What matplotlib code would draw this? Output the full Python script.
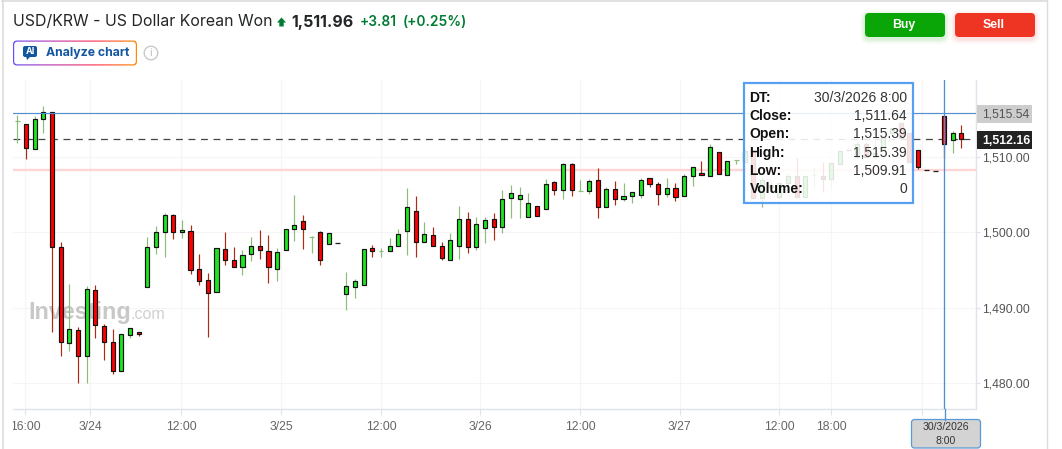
import numpy as np
import matplotlib
matplotlib.use("Agg")
import matplotlib.pyplot as plt
from matplotlib.patches import FancyBboxPatch, Rectangle, Circle, Polygon
from matplotlib.transforms import Bbox

# ---------- data (USD/KRW hourly candles) ----------
opens = [1514.68,1514.28,1510.97,1514.95,1515.87,1498.00,1485.29,1487.01,1483.57,1492.31,
         1487.54,1485.42,1481.58,1486.35,1486.75,1492.71,1498.00,1499.99,1502.24,1499.99,
         1500.12,1495.09,1493.63,1492.04,1497.74,1496.28,1495.35,1497.07,1498.13,1497.47,
         1495.09,1497.60,1500.38,1501.44,1499.37,1499.99,1498.40,1498.53,1491.87,1492.71,
         1492.97,1497.87,1497.47,1497.47,1498.13,1500.12,1502.77,1498.66,1499.59,1498.13,
         1496.28,1498.13,1501.71,1498.00,1500.52,1501.71,1500.65,1504.49,1504.36,1501.97,
         1503.43,1503.03,1506.61,1505.55,1508.99,1505.42,1505.42,1506.87,1503.30,1505.68,
         1504.36,1504.75,1504.89,1507.14,1506.35,1505.02,1505.81,1504.75,1507.40,1507.80,
         1507.40,1510.58,1507.53,1509.52,1509.34,1510.89,1504.49,1506.03,1504.71,1506.48,
         1507.45,1504.71,1507.53,1507.40,1507.01,1508.99,1510.84,1510.01,1511.68,1509.92,
         1510.89,1513.10,1514.42,1513.10,1510.84,1508.20,1508.11,1515.39,1512.17,1513.10]
highs = [1515.52,1514.28,1515.39,1516.71,1515.87,1498.71,1493.15,1487.45,1492.88,1493.01,
         1487.85,1487.19,1486.48,1487.28,1486.75,1499.37,1500.82,1502.55,1502.41,1501.62,
         1500.96,1497.12,1494.60,1497.87,1499.99,1498.04,1497.65,1499.37,1500.30,1499.63,
         1497.87,1500.38,1504.93,1502.28,1499.50,1500.12,1499.85,1498.53,1494.74,1493.81,
         1497.74,1498.31,1497.87,1499.28,1500.47,1505.86,1504.80,1501.36,1500.69,1498.71,
         1499.94,1503.47,1502.68,1502.02,1502.02,1502.55,1505.59,1506.25,1505.99,1505.20,
         1503.43,1507.00,1506.74,1509.17,1509.17,1506.92,1507.00,1508.50,1505.99,1506.78,
         1506.52,1505.28,1507.18,1507.14,1506.65,1507.18,1506.52,1507.71,1508.59,1509.43,
         1511.68,1510.58,1509.39,1509.52,1511.11,1510.89,1507.36,1506.92,1506.48,1507.80,
         1509.79,1507.45,1508.68,1509.34,1509.12,1510.76,1510.84,1512.43,1511.99,1512.65,
         1512.65,1513.76,1514.42,1513.10,1510.84,1508.20,1508.11,1515.39,1513.36,1514.15]
lows = [1511.77,1509.70,1510.97,1513.18,1486.84,1483.66,1484.32,1480.08,1480.08,1486.04,
        1483.13,1481.28,1481.58,1486.04,1486.31,1492.71,1497.16,1496.76,1499.15,1499.28,
        1494.51,1493.06,1486.17,1492.04,1495.71,1495.35,1494.38,1496.24,1496.50,1493.32,
        1493.59,1497.60,1498.88,1497.82,1497.29,1495.71,1498.40,1498.53,1489.71,1491.34,
        1492.97,1496.77,1496.77,1497.47,1498.13,1497.03,1496.77,1498.66,1498.13,1496.37,
        1496.28,1496.50,1497.30,1497.69,1498.62,1499.02,1499.94,1501.93,1501.93,1501.97,
        1502.11,1503.03,1504.97,1504.44,1504.84,1505.42,1505.11,1501.93,1503.30,1503.65,
        1504.18,1503.92,1504.58,1506.03,1503.65,1504.71,1504.18,1504.75,1506.17,1507.53,
        1507.40,1507.67,1507.53,1509.08,1509.34,1504.49,1503.39,1505.15,1504.71,1506.26,
        1504.71,1504.71,1506.03,1505.37,1505.59,1508.99,1510.84,1509.79,1509.79,1509.56,
        1510.89,1513.10,1512.43,1509.26,1508.33,1508.20,1508.11,1509.91,1510.45,1511.20]
closes = [1514.68,1511.11,1514.95,1515.87,1498.00,1485.42,1487.14,1483.57,1492.44,1487.67,
          1485.42,1481.58,1486.48,1487.28,1486.48,1498.00,1499.99,1502.24,1499.99,1500.25,
          1494.96,1493.50,1491.91,1497.87,1496.28,1495.35,1496.94,1498.13,1497.60,1495.35,
          1497.34,1500.38,1500.91,1500.38,1499.37,1496.28,1499.85,1498.53,1492.84,1493.50,
          1497.74,1497.47,1497.47,1498.13,1499.72,1503.30,1498.66,1499.72,1498.13,1496.55,
          1498.93,1501.71,1498.00,1501.05,1501.58,1500.65,1504.36,1505.15,1504.89,1503.83,
          1502.11,1506.35,1505.55,1508.99,1505.55,1505.42,1506.74,1503.30,1505.68,1504.36,
          1504.75,1505.28,1506.87,1506.35,1505.02,1505.81,1504.62,1507.40,1508.59,1507.53,
          1511.24,1507.67,1509.39,1509.52,1510.71,1504.49,1506.92,1506.26,1506.48,1507.45,
          1504.71,1507.45,1507.53,1507.01,1509.12,1510.76,1510.84,1511.68,1510.01,1510.45,
          1512.65,1513.76,1512.43,1509.26,1508.68,1508.20,1508.11,1511.64,1513.10,1512.30]

y_ticks = [1480, 1490, 1500, 1510]
x_tick_pos = [0.92, 8.43, 18.93, 30.48, 42.03, 53.46, 64.97, 76.5, 87.95, 93.96, 104.5]
x_tick_labels = ["16:00", "3/24", "12:00", "3/25", "12:00", "3/26", "12:00", "3/27", "12:00", "18:00", ""]
crosshair_x = 107
crosshair_price = 1515.75
crosshair_label = "1,515.54"
last_price_line = 1512.30
last_price_label = "1,512.16"
support_line = 1508.24
tooltip_keys = ["DT:", "Close:", "Open:", "High:", "Low:", "Volume:"]
tooltip_vals = ["30/3/2026 8:00", "1,511.64", "1,515.39", "1,515.39", "1,509.91", "0"]

# ---------- styles ----------
W, H = 1062, 449
SANS = "Liberation Sans"
UI = "Inter"
GRID = "#f5f5f6"
AXIS = "#e0e3eb"
UP, DOWN = "#1ee61e", "#ff0000"
UP_W, DOWN_W = "#8dbb78", "#b02a10"
BLUE = "#4f8fcf"

fig = plt.figure(figsize=(W / 100, H / 100), dpi=100, facecolor="white")
L, R, T, B = 13, 976, 80, 409.3
ax = fig.add_axes([L / W, 1 - B / H, (R - L) / W, (B - T) / H])
ax.set_xlim(-0.5, 110.7)
ax.set_ylim(1476.56, 1520.15)
for s in ("top", "left"):
    ax.spines[s].set_visible(False)
for s in ("right", "bottom"):
    ax.spines[s].set_color(AXIS)
    ax.spines[s].set_linewidth(1.0)
ax.yaxis.tick_right()
ax.set_yticks(y_ticks, [f"{v:,.2f}" for v in y_ticks])
ax.set_xticks(x_tick_pos, x_tick_labels)
ax.tick_params(axis="y", length=3, width=0.8, color=AXIS, labelcolor="#555555", labelsize=8.7, pad=1.3)
ax.tick_params(axis="x", length=4.2, width=0.8, color=AXIS, labelcolor="#666666", labelsize=8.7, pad=4.2)
for lab in ax.get_xticklabels() + ax.get_yticklabels():
    lab.set_family(SANS)
for lab in ax.get_xticklabels():
    lab.set_clip_box(Bbox([[L - 0.5, 0], [W, H]]))
    lab.set_clip_on(True)
ax.grid(True, color=GRID, lw=0.8, zorder=0)
ax.set_axisbelow(True)

ov = fig.add_axes([0, 0, 1, 1], zorder=5)
ov.set_xlim(0, W)
ov.set_ylim(H, 0)
ov.axis("off")
ov.patch.set_alpha(0)

# watermark, behind the candles
ax.text(28, 319, "Investing", transform=ov.transData, family=SANS, weight="bold",
        fontsize=16.8, color="#c8c8c8", zorder=1, clip_on=False)
ax.text(131, 319, ".com", transform=ov.transData, family=SANS, fontsize=11.6,
        color="#d0d0d0", zorder=1, clip_on=False)

ax.axhline(support_line, color="#ffd6d6", lw=1.7, zorder=1.5)
ax.axhline(last_price_line, color="#444444", lw=0.9, dashes=(5.5, 4.5), zorder=1.6)

# candles
xs = np.arange(len(opens))
o, h, l, c = map(np.array, (opens, highs, lows, closes))
up = c >= o
ax.vlines(xs[up], l[up], h[up], color=UP_W, lw=0.85, zorder=2)
ax.vlines(xs[~up], l[~up], h[~up], color=DOWN_W, lw=0.85, zorder=2)
flat = o == c
hold = h > l
ax.bar(xs[~flat], np.abs(c - o)[~flat], bottom=np.minimum(o, c)[~flat], width=0.47,
       color=[UP if u else DOWN for u in up[~flat]], edgecolor="#111111", linewidth=0.85, zorder=3)
fw = flat & hold
ax.hlines(o[fw], xs[fw] - 0.28, xs[fw] + 0.28,
          color=[UP_W if u else DOWN_W for u in up[fw]], lw=0.85, zorder=3)
fn = flat & ~hold
ax.hlines(o[fn], xs[fn] - 0.28, xs[fn] + 0.28, color="#222222", lw=0.95, zorder=3)

ax.axhline(crosshair_price, color=BLUE, lw=0.85, zorder=4)
ax.axvline(crosshair_x, color=BLUE, lw=0.95, zorder=4)


def rrect(x0, y0, x1, y1, r, **kw):
    p = FancyBboxPatch((x0 + r, y0 + r), x1 - x0 - 2 * r, y1 - y0 - 2 * r,
                       boxstyle=f"round,pad={r},rounding_size={r}", **kw)
    ov.add_patch(p)
    return p


# frame of the widget
ov.plot([2.5, 2.5], [0, H], color="#dcdcdc", lw=1.2)
ov.plot([2, 1046.5], [0.7, 0.7], color="#dcdcdc", lw=1.2)
ov.plot([1046.5, 1046.5], [0, H], color="#dcdcdc", lw=1.0)

# header
ov.text(13, 22, "USD/KRW - US Dollar Korean Won", family=UI, fontsize=11.45, color="#232526", va="center")
ov.add_patch(Polygon([[281.5, 17.5], [286, 22.5], [283.7, 22.5], [283.7, 26.5], [279.3, 26.5], [279.3, 22.5], [277, 22.5]],
                     closed=True, color="#007c32", lw=0))
ov.text(291, 22, "1,511.96", family=UI, weight="bold", fontsize=11.5, color="#232526", va="center")
ov.text(360, 22, "+3.81", family=UI, weight="semibold", fontsize=9.9, color="#007c32", va="center")
ov.text(403, 22, "(+0.25%)", family=UI, weight="semibold", fontsize=9.9, color="#007c32", va="center")

# analyze button with gradient border
grad = np.linspace(0, 1, 256).reshape(1, -1)
cm = matplotlib.colors.LinearSegmentedColormap.from_list("g", ["#6a4df5", "#c43fb0", "#ff3d5a", "#ff8a00"])
im = ov.imshow(grad, extent=(13, 137, 66, 40), cmap=cm, aspect="auto", zorder=1)
clip = rrect(13, 40.5, 137, 65.5, 4, fc="none", ec="none")
im.set_clip_path(clip)
ov.set_xlim(0, W)
ov.set_ylim(H, 0)
rrect(14.2, 41.7, 135.8, 64.3, 3, fc="white", ec="none", zorder=2)
rrect(23, 46, 37, 57, 2, fc="#1256a0", ec="none", zorder=3)
ov.add_patch(Polygon([[26, 56], [31, 56], [27, 60]], closed=True, color="#1256a0", lw=0, zorder=3))
ov.text(30, 51.5, "AI", family=UI, weight="bold", fontsize=6.5, color="white", ha="center", va="center", zorder=4)
ov.text(46, 53, "Analyze chart", family=UI, weight="bold", fontsize=8.8, color="#1256a0", va="center", zorder=3)
ov.add_patch(Circle((151, 53), 6.8, fc="white", ec="#c9c9c9", lw=1.0))
ov.text(151, 53, "i", family=UI, fontsize=8, color="#c0c0c0", ha="center", va="center")

# buy / sell
for x0, col, shade, lab in ((865, "#0aa506", "#0aa506", "Buy"), (955, "#ee3524", "#ee3524", "Sell")):
    for grow, a in ((5, 0.035), (3, 0.05), (1.5, 0.06)):
        rrect(x0 - grow, 13 + 2 - grow, x0 + 80 + grow, 37 + 2 + grow, 5 + grow, fc=shade, ec="none", alpha=a)
    rrect(x0, 13, x0 + 80, 37, 4, fc=col, ec="none")
    ov.text(x0 + 40 - 1, 25, lab, family=SANS, weight="bold", fontsize=8.8, color="white", ha="center", va="center")

# tooltip
ov.add_patch(Rectangle((743.5, 82.5), 169, 120.5, fc="white", ec="none", alpha=0.88, zorder=6))
ov.add_patch(Rectangle((743.5, 82.5), 169, 120.5, fc="none", ec="#55a0f0", lw=1.6, zorder=7))
for yy, k, v in zip((98, 116, 134, 153, 171, 189), tooltip_keys, tooltip_vals):
    ov.text(749.5, yy, k, family=SANS, weight="bold", fontsize=10, color="#111111", va="center", zorder=8)
    ov.text(907, yy, v, family=SANS, fontsize=10, color="#333333", ha="right", va="center", zorder=8)

# price tags
ov.add_patch(Rectangle((976.5, 105), 55.5, 17.5, fc="#cdcdcd", ec="none"))
ov.text(982, 114.5, crosshair_label, family=SANS, fontsize=8.8, color="#555555", va="center")
ov.add_patch(Rectangle((976.5, 131), 55.5, 17.5, fc="#222222", ec="none"))
ov.text(982, 140.5, last_price_label, family=SANS, weight="bold", fontsize=8.8, color="white", va="center")

# date tag
rrect(911.5, 419.5, 980.5, 448, 3, fc="#d3d3d3", ec="#5b9bd5", lw=0.9)
ov.text(945.5, 427.5, "30/3/2026", family=SANS, fontsize=7.6, color="#333333", ha="center", va="center")
ov.text(945.5, 440.5, "8:00", family=SANS, fontsize=7.6, color="#333333", ha="center", va="center")
ov.plot([944.5, 944.5], [409, 419.5], color=BLUE, lw=0.95)

fig.savefig("out.png", dpi=100)
